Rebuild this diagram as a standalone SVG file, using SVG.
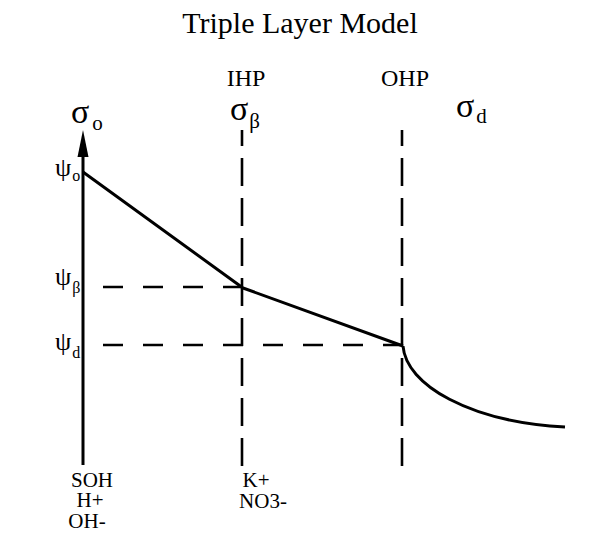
<svg xmlns="http://www.w3.org/2000/svg" width="590" height="542" viewBox="0 0 590 542">
<style>
text{font-family:"Liberation Serif","Times New Roman",serif;fill:#000}
.t{font-size:30px}
.lab{font-size:24px}
.ion{font-size:21px}
.sig{font-size:34px}
.psi{font-size:26px}
.sub{font-size:21px}
.psub{font-size:16px}
.solid{stroke:#000;stroke-width:3;fill:none;stroke-linejoin:round}
.vd{stroke:#000;stroke-width:2.6;fill:none;stroke-dasharray:28 12;stroke-dashoffset:12}
.hd{stroke:#000;stroke-width:2.4;fill:none;stroke-dasharray:20 20}
</style>
<rect width="590" height="542" fill="#fff"/>
<g id="title"><text class="t" x="300" y="33" text-anchor="middle">Triple Layer Model</text></g>
<g id="axis">
<line class="solid" x1="83" y1="150" x2="83" y2="465" stroke-width="2.6"/>
<polygon points="83,130 77.5,157 88.5,157" fill="#000"/>
</g>
<g id="ihp-label"><text class="lab" x="246" y="86" text-anchor="middle">IHP</text></g>
<g id="ohp-label"><text class="lab" x="405" y="86" text-anchor="middle">OHP</text></g>
<g id="sigma-o"><text x="71" y="123"><tspan class="sig">σ</tspan><tspan class="sub" dx="3" dy="7">o</tspan></text></g>
<g id="sigma-beta"><text x="230" y="120"><tspan class="sig">σ</tspan><tspan class="sub" dx="1" dy="8">β</tspan></text></g>
<g id="sigma-d"><text x="456" y="117"><tspan class="sig">σ</tspan><tspan class="sub" dx="2" dy="6">d</tspan></text></g>
<g id="psi-o"><text x="55" y="176"><tspan class="psi">ψ</tspan><tspan class="psub" dx="1" dy="5">o</tspan></text></g>
<g id="psi-beta"><text x="55" y="285"><tspan class="psi">ψ</tspan><tspan class="psub" dx="1" dy="8">β</tspan></text></g>
<g id="psi-d"><text x="55" y="350"><tspan class="psi">ψ</tspan><tspan class="psub" dx="1" dy="8">d</tspan></text></g>
<g id="surface-ions">
<text class="ion" text-anchor="middle"><tspan x="92" y="487">SOH</tspan><tspan x="90" y="507">H+</tspan><tspan x="87" y="528">OH-</tspan></text>
</g>
<g id="ihp-ions">
<text class="ion" text-anchor="middle"><tspan x="256" y="487">K+</tspan><tspan x="263" y="508">NO3-</tspan></text>
</g>
<g id="connectors">
<line class="vd" x1="242" y1="130" x2="242" y2="466"/>
<line class="vd" x1="402" y1="130" x2="402" y2="466"/>
<line class="hd" x1="103" y1="287" x2="242" y2="287"/>
<line class="hd" x1="103" y1="345" x2="402" y2="345"/>
<polyline class="solid" points="83,172 243,288 403,346"/>
<path class="solid" d="M403,346 C406,385 470,422 565,427"/>
</g>
</svg>
